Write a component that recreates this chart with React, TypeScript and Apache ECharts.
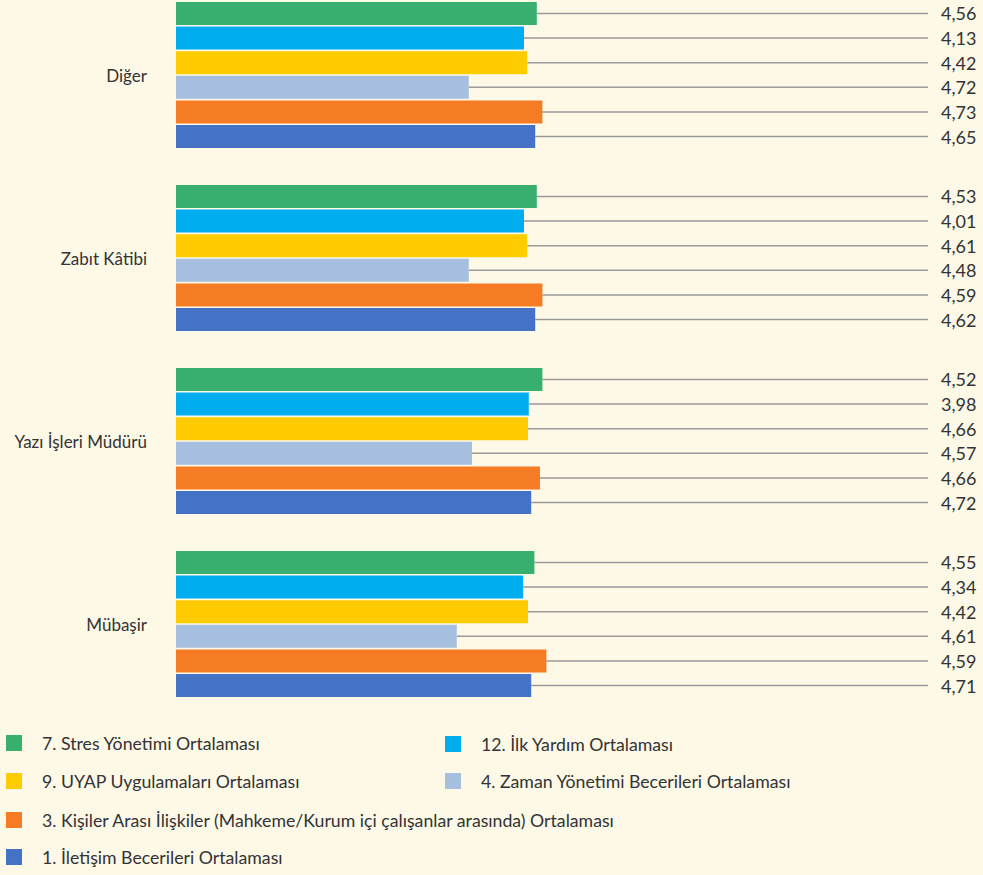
import React, { useEffect, useRef } from "react";
import * as echarts from "echarts";

const categories = ["Diğer", "Zabıt Kâtibi", "Yazı İşleri Müdürü", "Mübaşir"];

const seriesNames = [
  "7. Stres Yönetimi Ortalaması",
  "12. İlk Yardım Ortalaması",
  "9. UYAP Uygulamaları Ortalaması",
  "4. Zaman Yönetimi Becerileri Ortalaması",
  "3. Kişiler Arası İlişkiler (Mahkeme/Kurum içi çalışanlar arasında) Ortalaması",
  "1. İletişim Becerileri Ortalaması",
];

const seriesColors = ["#38ae6f", "#00aeef", "#ffcc00", "#a6bfde", "#f57b24", "#4472c4"];

// Bar lengths as drawn in the picture (read on a 0–5 scale)
const stresBars = [4.51, 4.51, 4.58, 4.48];
const ilkYardimBars = [4.35, 4.35, 4.41, 4.34];
const uyapBars = [4.39, 4.39, 4.4, 4.4];
const zamanBars = [3.66, 3.66, 3.7, 3.51];
const kisilerBars = [4.58, 4.58, 4.55, 4.63];
const iletisimBars = [4.49, 4.49, 4.44, 4.44];

// Value labels printed at the right
const stresLabels = ["4,56", "4,53", "4,52", "4,55"];
const ilkYardimLabels = ["4,13", "4,01", "3,98", "4,34"];
const uyapLabels = ["4,42", "4,61", "4,66", "4,42"];
const zamanLabels = ["4,72", "4,48", "4,57", "4,61"];
const kisilerLabels = ["4,73", "4,59", "4,66", "4,59"];
const iletisimLabels = ["4,65", "4,62", "4,72", "4,71"];

const barData = [stresBars, ilkYardimBars, uyapBars, zamanBars, kisilerBars, iletisimBars];
const labelData = [stresLabels, ilkYardimLabels, uyapLabels, zamanLabels, kisilerLabels, iletisimLabels];

const FONT = "Lato, 'Liberation Sans', sans-serif";
const TEXT = "#333333";
const SHIFT = 17; // chart div starts above the page so the first group sits near the top edge

export default function App() {
  const ref = useRef<HTMLDivElement>(null);
  useEffect(() => {
    if (!ref.current) return;
    const chart = echarts.init(ref.current, null, { renderer: "svg" });
    const legendPos = [
      { left: 6, top: 734 },
      { left: 445, top: 735 },
      { left: 6, top: 772 },
      { left: 445, top: 772 },
      { left: 6, top: 811 },
      { left: 6, top: 848 },
    ];
    chart.setOption({
      animation: false,
      backgroundColor: "#fef8e7",
      textStyle: { fontFamily: FONT },
      grid: { left: 176, width: 400, top: 0.5, height: 732 },
      xAxis: { type: "value", min: 0, max: 5, show: false },
      yAxis: {
        type: "category",
        data: categories,
        inverse: true,
        axisLine: { show: false },
        axisTick: { show: false },
        splitLine: { show: false },
        axisLabel: { margin: 29, fontSize: 17, color: TEXT, fontFamily: FONT },
      },
      legend: legendPos.map((p, i) => ({
        data: [seriesNames[i]],
        left: p.left,
        top: p.top + SHIFT,
        padding: 0,
        icon: "rect",
        itemWidth: 16,
        itemHeight: 16,
        selectedMode: false,
        textStyle: { fontSize: 17.7, color: TEXT, fontFamily: FONT, padding: [0, 0, 0, 15] },
      })),
      series: seriesNames.map((name, i) => ({
        type: "bar",
        name,
        data: barData[i],
        barWidth: 23,
        barGap: "7%",
        itemStyle: { color: seriesColors[i] },
        label: {
          show: true,
          position: "right",
          formatter: (p: any) => "{s| }{v|" + labelData[i][p.dataIndex] + "}",
          color: TEXT,
          fontFamily: FONT,
          rich: {
            s: { width: 13, fontSize: 18 },
            v: { fontSize: 18, color: TEXT, fontFamily: FONT },
          },
        },
        labelLayout: (params: any) => ({
          x: 928,
          y: params.rect.y + params.rect.height / 2,
          align: "left",
          verticalAlign: "middle",
        }),
        labelLine: { show: true, lineStyle: { color: "#9a9a9a", width: 1.5 } },
      })),
    });
    return () => chart.dispose();
  }, []);
  return (
    <div
      ref={ref}
      style={{ position: "absolute", left: 0, top: -SHIFT, width: 983, height: 875 + SHIFT }}
    />
  );
}
